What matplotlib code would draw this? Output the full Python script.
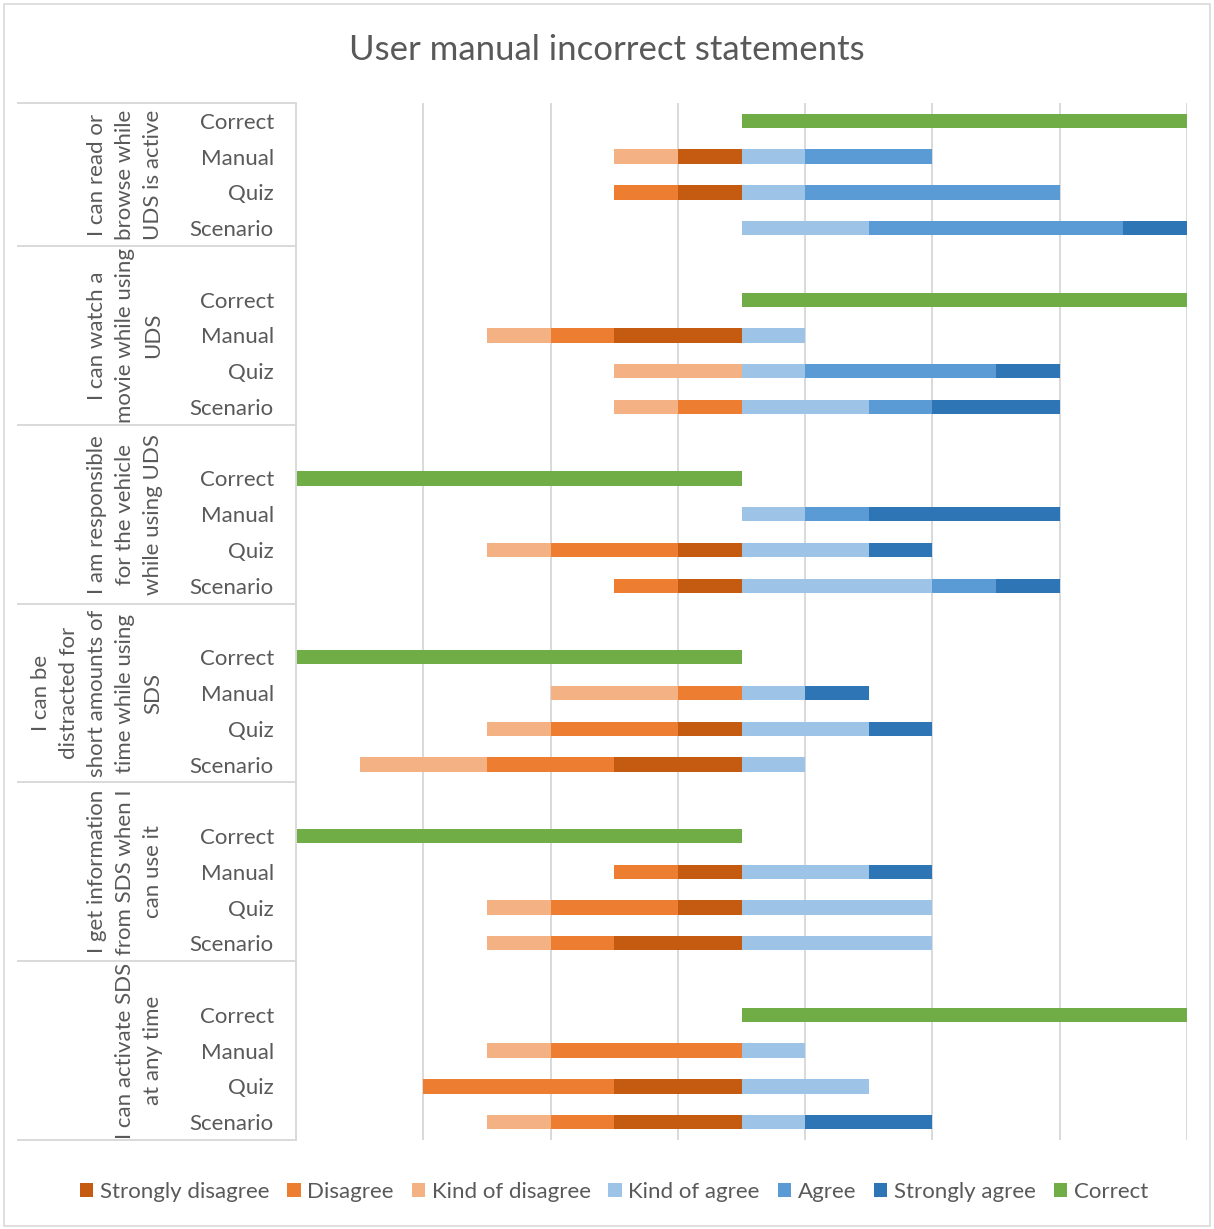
import matplotlib.pyplot as plt
from matplotlib.patches import Patch, Rectangle

plt.rcParams['font.family'] = ['Lato', 'DejaVu Sans']

# statements (group labels, wrapped like the original axis)
statements = [
    "I can read or\nbrowse while\nUDS is active",
    "I can watch a\nmovie while using\nUDS",
    "I am responsible\nfor the vehicle\nwhile using UDS",
    "I can be\ndistracted for\nshort amounts of\ntime while using\nSDS",
    "I get information\nfrom SDS when I\ncan use it",
    "I can activate SDS\nat any time",
]
conditions = ["Manual", "Quiz", "Scenario"]

# signed length of the "Correct" bar per statement (+ = agree side)
correct = [7, 7, -7, -7, -7, 7]

# counts per statement x condition (Manual, Quiz, Scenario)
strongly_disagree = [1, 1, 0,  2, 0, 0,  0, 1, 1,  0, 1, 2,  1, 1, 2,  0, 2, 2]
disagree          = [0, 1, 0,  1, 0, 1,  0, 2, 1,  1, 2, 2,  1, 2, 1,  3, 3, 1]
kind_disagree     = [1, 0, 0,  1, 2, 1,  0, 1, 0,  2, 1, 2,  0, 1, 1,  1, 0, 1]
kind_agree        = [1, 1, 2,  1, 1, 2,  1, 2, 3,  1, 2, 1,  2, 3, 3,  1, 2, 1]
agree             = [2, 4, 4,  0, 3, 1,  1, 0, 1,  0, 0, 0,  0, 0, 0,  0, 0, 0]
strongly_agree    = [0, 0, 1,  0, 1, 2,  3, 1, 1,  1, 1, 0,  1, 0, 0,  0, 0, 2]

colors = {
    "Strongly disagree": "#C55A11",
    "Disagree": "#ED7D31",
    "Kind of disagree": "#F4B183",
    "Kind of agree": "#9DC3E6",
    "Agree": "#5B9BD5",
    "Strongly agree": "#2E75B6",
    "Correct": "#70AD47",
}
text_col = "#595959"
line_col = "#D9D9D9"

fig = plt.figure(figsize=(12.14, 12.29), dpi=100)
ax = fig.add_axes([296 / 1214, 1 - 1140 / 1229, 891 / 1214, 1037 / 1229])

bh = 0.4
ypos, ylabels = [], []
bounds = [0]
slot = 0
for g in range(len(statements)):
    if g > 0:
        slot += 1  # blank slot between groups
    # correct bar
    y = slot + 0.5
    ax.barh(y, correct[g], height=bh, color=colors["Correct"])
    ypos.append(y); ylabels.append("Correct")
    slot += 1
    for c in range(3):
        i = g * 3 + c
        y = slot + 0.5
        left = 0
        for name, vals in [("Strongly disagree", strongly_disagree),
                           ("Disagree", disagree),
                           ("Kind of disagree", kind_disagree)]:
            if vals[i]:
                ax.barh(y, -vals[i], left=left, height=bh, color=colors[name])
            left -= vals[i]
        left = 0
        for name, vals in [("Kind of agree", kind_agree),
                           ("Agree", agree),
                           ("Strongly agree", strongly_agree)]:
            if vals[i]:
                ax.barh(y, vals[i], left=left, height=bh, color=colors[name])
            left += vals[i]
        ypos.append(y); ylabels.append(conditions[c])
        slot += 1
    bounds.append(slot)

ax.set_xlim(-7, 7)
ax.set_ylim(slot, 0)
ax.set_xticks(range(-7, 8, 2))
ax.set_xticklabels([])
ax.tick_params(axis='x', length=0)
ax.grid(axis='x', color=line_col, linewidth=1.4)
ax.set_axisbelow(True)
ax.set_yticks(ypos)
ax.set_yticklabels(ylabels, fontsize=16, color=text_col)
ax.tick_params(axis='y', length=0, pad=16)
for s in ['top', 'right', 'bottom']:
    ax.spines[s].set_visible(False)
ax.spines['left'].set_color(line_col)
ax.spines['left'].set_linewidth(1.4)

# multi-level category labels and separators
trans = ax.get_yaxis_transform()
for b in bounds:
    ax.plot([-0.312, 0], [b, b], color=line_col, lw=1.4, transform=trans, clip_on=False)
for g in range(len(statements)):
    yc = (bounds[g] + bounds[g + 1]) / 2
    ax.text(-0.1493, yc, statements[g], transform=trans, rotation=90,
            ha='right', va='center', multialignment='center',
            fontsize=16, color=text_col, linespacing=1.5)

fig.suptitle("User manual incorrect statements", y=1 - 50 / 1229, va='center',
             fontsize=25, color=text_col)

handles = [Patch(facecolor=c, label=n) for n, c in colors.items()]
fig.legend(handles=handles, loc='center', bbox_to_anchor=(614 / 1214, 1 - 1192 / 1229),
           ncol=7, frameon=False, fontsize=16, handlelength=0.6, handleheight=0.6,
           handletextpad=0.3, columnspacing=0.8, labelcolor=text_col)

fig.patches.append(Rectangle((4 / 1214, 3 / 1229), 1206 / 1214, 1222 / 1229,
                             transform=fig.transFigure, fill=False,
                             edgecolor=line_col, lw=1.2))

fig.savefig("out.png", dpi=100)
